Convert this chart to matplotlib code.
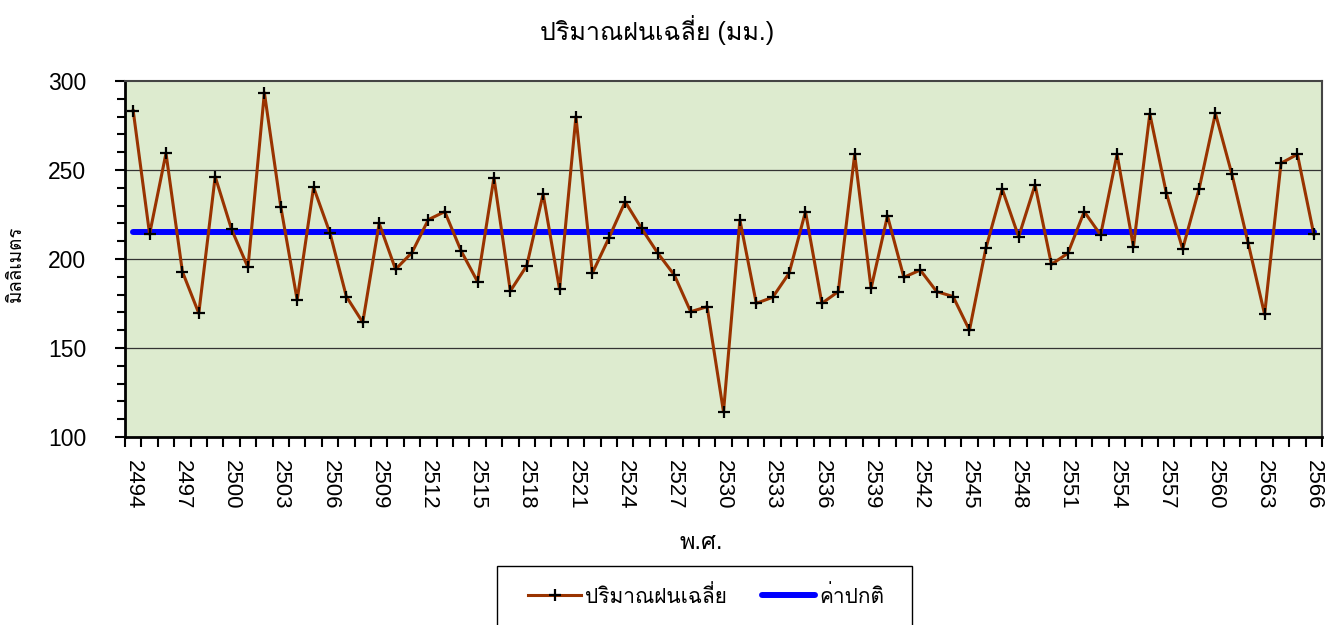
import numpy as np
import matplotlib
matplotlib.use("Agg")
import matplotlib.pyplot as plt
from matplotlib import font_manager
from matplotlib.ticker import MultipleLocator
from matplotlib.patches import Rectangle

# years (Buddhist era) and mean rainfall (mm)
years = list(range(2494, 2567))
rain = [283.3, 214.0, 259.4, 192.9, 169.5, 246.3, 216.6, 195.3, 293.4, 229.4,
        177.0, 240.3, 214.6, 178.9, 164.4, 220.0, 194.2, 203.6, 222.1, 226.6,
        204.5, 187.3, 245.7, 182.0, 196.2, 236.5, 183.0, 280.0, 192.0, 211.6,
        232.2, 217.2, 203.2, 191.0, 170.4, 173.2, 114.2, 221.9, 175.1, 178.5,
        192.0, 226.6, 175.1, 181.7, 258.8, 183.5, 224.2, 189.7, 193.8, 181.7,
        178.9, 160.0, 206.0, 239.2, 212.5, 241.6, 197.0, 203.2, 226.6, 213.5,
        258.8, 206.9, 281.5, 237.3, 205.6, 239.2, 281.8, 247.8, 208.8, 168.9,
        253.8, 258.8, 213.9]
normal = 215.3
yticks = [100, 150, 200, 250, 300]

title = "ปริมาณฝนเฉลี่ย (มม.)"
ylabel = "มิลลิเมตร"
xlabel = "พ.ศ."
lab_rain = "ปริมาณฝนเฉลี่ย"
lab_norm = "ค่าปกติ"

# Thai glyphs: Loma places stacked tone marks correctly without text shaping
names = {f.name for f in font_manager.fontManager.ttflist}
thai = next((n for n in ["Loma", "FreeSerif", "Noto Sans Thai Looped"]
             if n in names), "DejaVu Sans")
plt.rcParams["font.family"] = ["Liberation Sans", thai, "DejaVu Sans"]

x = np.arange(len(years))
fig = plt.figure(figsize=(13.36, 6.25), dpi=100)
ax = fig.add_axes([125 / 1336, 1 - 437 / 625, (1322 - 125) / 1336, (437 - 81) / 625])
ax.set_facecolor("#ddebcf")

for v in yticks[1:-1]:
    ax.axhline(v, color="#333333", lw=0.9, zorder=1)

ax.plot(x, rain, color="#993300", lw=2.2, marker="+", ms=9, mew=1.6,
        mec="black", zorder=3, label=lab_rain)
ax.plot([x[0], x[-1]], [normal, normal], color="#0000ff", lw=4.3,
        solid_capstyle="round", zorder=2, label=lab_norm)

ax.set_xlim(-0.5, len(years) - 0.5)
ax.set_ylim(100, 300)
ax.set_yticks(yticks)
ax.yaxis.set_minor_locator(MultipleLocator(10))
ax.set_xticks(x[::3])
ax.set_xticklabels([str(y) for y in years[::3]], rotation=270)
ax.set_xticks(np.arange(-0.5, len(years), 1.0), minor=True)
ax.tick_params(axis="x", which="major", length=0, labelsize=16, pad=16.5)
ax.tick_params(axis="x", which="minor", length=7, width=1.5, direction="out")
ax.tick_params(axis="y", which="major", length=7, width=1.5, labelsize=16.5, pad=21)
ax.tick_params(axis="y", which="minor", length=5.5, width=1.5)

for s in ["left", "bottom"]:
    ax.spines[s].set_linewidth(2.0)
    ax.spines[s].set_color("black")
for s in ["top", "right"]:
    ax.spines[s].set_linewidth(1.5)
    ax.spines[s].set_color("#444444")

fig.text(657 / 1336, 1 - 30 / 625, title, ha="center", va="center", fontsize=18)
fig.text(16 / 1336, 1 - 264 / 625, ylabel, ha="center", va="center",
         rotation=90, fontsize=13.5)
fig.text(701 / 1336, 1 - 543 / 625, xlabel, ha="center", va="center", fontsize=17)

# legend box drawn by hand: Excel's box is wider than the entries and runs off the bottom
fig.patches.append(Rectangle((497 / 1336, -0.05), (912 - 497) / 1336, 0.05 + 59 / 625,
                             transform=fig.transFigure, fill=False,
                             edgecolor="black", lw=1.0))
leg = fig.legend(loc="upper center", bbox_to_anchor=(706 / 1336, 1 - 566 / 625),
                 ncol=2, fontsize=15, frameon=False,
                 handlelength=2.55, columnspacing=1.65, borderpad=0.9,
                 handletextpad=0.2, borderaxespad=0)

fig.savefig("out.png", dpi=100)
